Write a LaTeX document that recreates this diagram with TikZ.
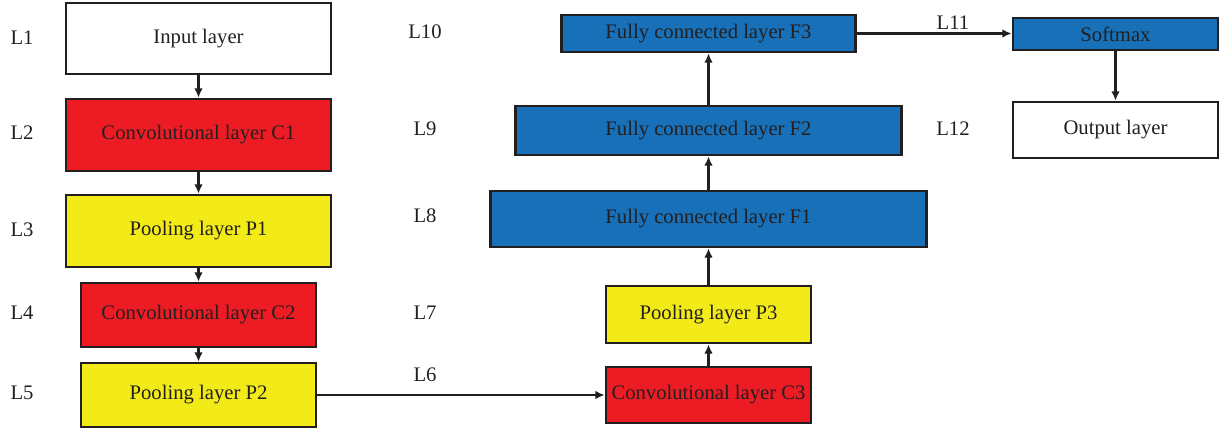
\documentclass[tikz,border=0pt]{standalone}
\usepackage{fontspec}
\setmainfont{Liberation Serif}
\usepackage{xcolor}
\usetikzlibrary{arrows.meta}
\definecolor{ink}{HTML}{231F20}
\definecolor{convred}{HTML}{ED1C24}
\definecolor{poolyellow}{HTML}{F2EB17}
\definecolor{fcblue}{HTML}{1770B8}
\tikzset{
  layer/.style={draw=ink,line width=2pt,inner sep=0pt,text=ink,font=\fontsize{15.5}{18}\selectfont},
  dims/.style 2 args={minimum width=#1*0.75pt,minimum height=#2*0.75pt},
  lab/.style={text=ink,font=\fontsize{15.5}{18}\selectfont},
  link/.style={->,draw=ink,line width=2pt}
}
\begin{document}
\begin{tikzpicture}[x=0.75pt,y=-0.75pt,>={Latex[length=7pt,width=6.5pt]}]
\useasboundingbox (0,0) rectangle (1221,430);

\node[layer,fill=white,dims={265}{71}] (in) at (198.5,38.5) {Input layer};
\node[layer,fill=convred,dims={265}{72}] (c1) at (198.5,135) {Convolutional layer C1};
\node[layer,fill=poolyellow,dims={265}{72}] (p1) at (198.5,231) {Pooling layer P1};
\node[layer,fill=convred,dims={235}{64}] (c2) at (198.5,315) {Convolutional layer C2};
\node[layer,fill=poolyellow,dims={235}{64}] (p2) at (198.5,395) {Pooling layer P2};

\node[layer,fill=convred,dims={205}{56}] (c3) at (708.5,395) {Convolutional layer C3};
\node[layer,fill=poolyellow,dims={205}{57}] (p3) at (708.5,314.5) {Pooling layer P3};
\node[layer,fill=fcblue,dims={436}{56}] (f1) at (708.5,219) {Fully connected layer F1};
\node[layer,fill=fcblue,dims={386}{49}] (f2) at (708.5,130.5) {Fully connected layer F2};
\node[layer,fill=fcblue,dims={294}{37}] (f3) at (708.5,33.5) {Fully connected layer F3};

\node[layer,fill=fcblue,dims={205}{32}] (sm) at (1115.5,34) {Softmax};
\node[layer,fill=white,dims={205}{56}] (out) at (1115.5,130) {Output layer};

% layer numbers
\node[lab] (l1) at (22,38) {L1};
\node[lab] (l2) at (22,133) {L2};
\node[lab] (l3) at (22,230) {L3};
\node[lab] (l4) at (22,313) {L4};
\node[lab] (l5) at (22,393) {L5};
\node[lab] (l6) at (425,375) {L6};
\node[lab] (l7) at (425,313) {L7};
\node[lab] (l8) at (425,216) {L8};
\node[lab] (l9) at (425,129) {L9};
\node[lab] (l10) at (425,32) {L10};
\node[lab] (l11) at (953,23) {L11};
\node[lab] (l12) at (953,129) {L12};

% connections
\draw[link] (in) -- (c1);
\draw[link] (c1) -- (p1);
\draw[link] (p1) -- (c2);
\draw[link] (c2) -- (p2);
\draw[link] (p2) -- (c3);
\draw[link] (c3) -- (p3);
\draw[link] (p3) -- (f1);
\draw[link] (f1) -- (f2);
\draw[link] (f2) -- (f3);
\draw[link] (f3.east) -- (f3.east -| sm.west);
\draw[link] (sm) -- (out);
\end{tikzpicture}
\end{document}
